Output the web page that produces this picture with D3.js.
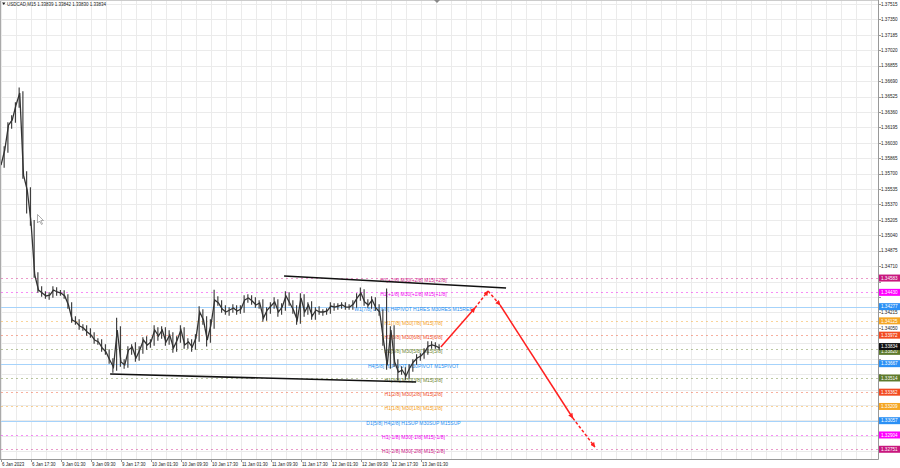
<!DOCTYPE html>
<html><head><meta charset="utf-8">
<script src="https://cdn.jsdelivr.net/npm/d3@7"></script>
<style>
body{margin:0;background:#fff;}
svg{display:block;font-family:"Liberation Sans",Arial,sans-serif;}
</style>
</head><body>
<svg id="c" width="900" height="468"></svg>
<script>
// ---------------- DATA ----------------
const chartTitle = "USDCAD,M15  1.33839 1.33842 1.33830 1.33834";
const lastPrice = 1.33834;

// time axis labels, one every 8 trading hours (hour index from start of chart)
const timeLabels = ["6 Jan 2023","6 Jan 17:30","9 Jan 01:30","9 Jan 09:30","9 Jan 17:30","10 Jan 01:30","10 Jan 09:30","10 Jan 17:30","11 Jan 01:30","11 Jan 09:30","11 Jan 17:30","12 Jan 01:30","12 Jan 09:30","12 Jan 17:30","13 Jan 01:30"];
const timeLabelHours = [0,8,16,24,32,40,48,56,64,72,80,88,96,104,112];

// price axis tick labels
const priceTicks = [1.37515,1.37350,1.37185,1.37020,1.36855,1.36690,1.36525,1.36360,1.36195,1.36030,1.35865,1.35700,1.35535,1.35370,1.35205,1.35040,1.34875,1.34710,1.34545,1.34380,1.34215,1.34050,1.33885,1.33720,1.33555,1.33390,1.33225,1.33060,1.32895,1.32730];

// hourly closes (hour index 0..117)
const closes = [
1.35792,1.35953,1.36220,1.36274,1.36434,1.36563,1.35685,1.35525,1.35183,1.34616,
1.34455,1.34423,1.34391,1.34401,1.34455,1.34434,1.34423,1.34391,1.34295,1.34134,
1.34113,1.34070,1.34049,1.34006,1.33974,1.33920,1.33899,1.33835,1.33792,1.33706,
1.33631,1.34027,1.33685,1.33653,1.33813,1.33845,1.33728,1.33813,1.33920,1.33867,
1.33899,1.34027,1.33963,1.34027,1.33899,1.33974,1.33835,1.33920,1.34027,1.33867,
1.33899,1.33845,1.33942,1.34220,1.34134,1.33920,1.34081,1.34348,1.34316,1.34252,
1.34220,1.34241,1.34263,1.34231,1.34252,1.34348,1.34370,1.34338,1.34295,1.34316,
1.34156,1.34241,1.34284,1.34327,1.34220,1.34273,1.34391,1.34316,1.34241,1.34134,
1.34370,1.34220,1.34295,1.34177,1.34241,1.34220,1.34220,1.34231,1.34284,1.34273,
1.34284,1.34295,1.34273,1.34273,1.34306,1.34370,1.34423,1.34327,1.34295,1.34348,
1.34263,1.34220,1.33920,1.33653,1.34027,1.33685,1.33578,1.33599,1.33535,1.33621,
1.33685,1.33728,1.33749,1.33792,1.33856,1.33867,1.33856,1.33834];

// hourly wick extent beyond the closes, in pips (up / down)
const wickUpPips = [
3,4,3,5,3,6,2,4,3,2,
3,4,2,3,4,3,2,3,2,3,
4,3,2,3,4,3,2,3,4,3,
2,13,4,3,4,3,5,4,3,4,
3,5,3,4,3,5,3,4,5,3,
4,3,4,6,3,4,6,11,4,3,
4,3,4,3,4,5,4,3,4,3,
4,3,4,5,3,4,5,4,3,5,
5,4,3,4,3,4,3,3,4,3,
3,3,3,3,4,5,6,4,3,4,
3,4,3,55,4,5,3,4,3,4,
3,4,3,4,5,4,3,2];
const wickDownPips = [
4,3,3,4,3,3,4,25,4,3,
3,4,3,4,3,4,3,3,4,3,
3,4,3,4,3,4,3,4,3,4,
6,4,5,4,3,5,4,3,4,5,
3,4,5,3,4,3,5,4,3,4,
4,5,3,4,5,7,3,4,3,4,
3,4,3,4,3,4,3,4,3,4,
4,3,4,3,5,3,4,3,4,5,
4,5,3,4,4,3,4,3,3,4,
3,3,3,3,3,4,3,4,3,4,
3,4,6,5,4,5,9,3,4,3,
4,3,3,3,3,3,3,2];

// Murrey math levels
const levelPrices = [1.34583,1.34430,1.34277,1.34125,1.33972,1.33820,1.33667,1.33514,1.33362,1.33209,1.33057,1.32904,1.32751];
const levelNames = [
"H1[+2/8] M30[+2/8] M15[+2/8]",
"H1[+1/8] M30[+1/8] M15[+1/8]",
"W1[7/8] D1[8/8] H4PIVOT H1RES M30RES M15RES",
"H1[7/8] M30[7/8] M15[7/8]",
"H1[6/8] M30[6/8] M15[6/8]",
"H1[5/8] M30[5/8] M15[5/8]",
"H4[5/8] H1PIVOT M30PIVOT M15PIVOT",
"H1[3/8] M30[3/8] M15[3/8]",
"H1[2/8] M30[2/8] M15[2/8]",
"H1[1/8] M30[1/8] M15[1/8]",
"D1[5/8] H4[2/8] H1SUP M30SUP M15SUP",
"H1[-1/8] M30[-1/8] M15[-1/8]",
"H1[-2/8] M30[-2/8] M15[-2/8]"];
const levelColors = ["#d0208a","#f000f0","#2a8ff0","#f5a020","#f0502a","#6b8430","#2a8ff0","#6b8430","#f0502a","#f5a020","#2a8ff0","#f000f0","#d0208a"];
const levelBoxColors = ["#c8187e","#ff00ff","#2a90f5","#f5a623","#f24a20","#5e7a2c","#2a90f5","#5e7a2c","#f24a20","#f5a623","#2a90f5","#ff00ff","#c8187e"];
const levelSolid = [false,false,true,false,false,false,true,false,false,false,true,false,false];
const levelLabelHour = 110;

// trend lines [hour, price]
const upperTrend = [[75.5,1.34605],[134.7,1.34477]];
const lowerTrend = [[29.1,1.33556],[110.7,1.33471]];

// forecast arrows path and styles of each segment
const arrowHours  = [117.3,126.4,129.9,133.1,152.5,158.4];
const arrowPrices = [1.33845,1.34263,1.34444,1.34295,1.33086,1.32775];
const arrowDashed = [false,true,true,false,true];

// ---------------- DRAW ----------------
const W = 900, H = 468;
const plotL = 1, plotR = 878, plotT = 0, plotB = 459;
const PIP = 0.0001;
const svg = d3.select("#c");

const x = d3.scaleLinear().domain([0, 233.9]).range([plotL, plotR]);
const y = d3.scaleLinear().domain([1.32647, 1.37558]).range([plotB, plotT]);

svg.append("rect").attr("width",W).attr("height",H).attr("fill","#fff");

// grid
const grid = svg.append("g").attr("stroke","#ebebeb").attr("stroke-width",1);
grid.selectAll("line.h").data(priceTicks).join("line")
  .attr("x1",plotL).attr("x2",plotR)
  .attr("y1",d=>Math.round(y(d))+0.5).attr("y2",d=>Math.round(y(d))+0.5);
const gridHours = d3.range(0, 234, 4);
grid.selectAll("line.v").data(gridHours).join("line")
  .attr("y1",plotT).attr("y2",plotB)
  .attr("x1",d=>Math.round(x(d))+0.5).attr("x2",d=>Math.round(x(d))+0.5);

// murrey level lines
const lv = svg.append("g");
levelPrices.forEach((p,i)=>{
  lv.append("line")
    .attr("x1",plotL).attr("x2",plotR)
    .attr("y1",Math.round(y(p))+0.5).attr("y2",Math.round(y(p))+0.5)
    .attr("stroke", levelSolid[i] ? "#a6d3fb" : levelColors[i])
    .attr("stroke-opacity", levelSolid[i] ? 1 : 0.45)
    .attr("stroke-width",1)
    .attr("stroke-dasharray", levelSolid[i] ? null : "2,3");
});

// price bars (hourly high-low) and close line
const pg = svg.append("g").attr("stroke","#333");
closes.forEach((c,k)=>{
  const prev = k>0 ? closes[k-1] : c;
  const hi = Math.max(prev,c) + wickUpPips[k]*PIP;
  const lo = Math.min(prev,c) - wickDownPips[k]*PIP;
  pg.append("line").attr("x1",x(k)-0.6).attr("x2",x(k)-0.6)
    .attr("y1",y(hi)).attr("y2",y(lo)).attr("stroke-width",1.1);
});
const line = d3.line().x((d,i)=>x(i)).y(d=>y(d));
svg.append("path").datum(closes).attr("d",line)
  .attr("fill","none").attr("stroke","#333").attr("stroke-width",1.3);

// level labels
lv.selectAll("text").data(levelPrices).join("text")
  .attr("x", x(levelLabelHour)).attr("y", d=>y(d)+4)
  .attr("text-anchor","middle").attr("font-size",5)
  .attr("fill",(d,i)=>levelColors[i])
  .text((d,i)=>levelNames[i]);

// trend lines
[upperTrend, lowerTrend].forEach(t=>{
  svg.append("line")
    .attr("x1",x(t[0][0])).attr("y1",y(t[0][1]))
    .attr("x2",x(t[1][0])).attr("y2",y(t[1][1]))
    .attr("stroke","#111").attr("stroke-width",1.6);
});

// arrows
const defs = svg.append("defs");
defs.append("marker").attr("id","ah").attr("viewBox","0 0 10 10")
  .attr("refX",9).attr("refY",5).attr("markerWidth",5).attr("markerHeight",5)
  .attr("orient","auto").attr("markerUnits","userSpaceOnUse")
  .append("path").attr("d","M0,0 L10,5 L0,10 z").attr("fill","#ff2020");
for(let i=0;i<arrowDashed.length;i++){
  svg.append("line")
    .attr("x1",x(arrowHours[i])).attr("y1",y(arrowPrices[i]))
    .attr("x2",x(arrowHours[i+1])).attr("y2",y(arrowPrices[i+1]))
    .attr("stroke","#ff2020").attr("stroke-width",1.5)
    .attr("stroke-dasharray", arrowDashed[i] ? "3,2" : null)
    .attr("marker-end","url(#ah)");
}

// mouse cursor
svg.append("path").attr("d","M37.5,214.5 L37.5,223 L39.5,221 L41.5,224.5 L42.5,224 L40.8,220.5 L43.5,220.5 Z")
  .attr("fill","#fff").attr("stroke","#777").attr("stroke-width",0.6);

// frame / axes
svg.append("line").attr("x1",plotR+0.5).attr("x2",plotR+0.5).attr("y1",0).attr("y2",plotB+0.5).attr("stroke","#999");
svg.append("line").attr("x1",0).attr("x2",plotR+0.5).attr("y1",plotB+0.5).attr("y2",plotB+0.5).attr("stroke","#999");
svg.append("line").attr("x1",0.5).attr("x2",0.5).attr("y1",0).attr("y2",plotB).attr("stroke","#aaa");
svg.append("line").attr("x1",0).attr("x2",plotR).attr("y1",0.5).attr("y2",0.5).attr("stroke","#ccc");
svg.append("path").attr("d","M434,0 L440,0 L437,3 Z").attr("fill","#888");

// level price boxes positions
const boxY = levelPrices.map((p,i)=> y(p) + (i===5 ? 2 : 0));
const lastY = y(lastPrice) - 1.5;
const allBoxY = boxY.concat([lastY]);

// right axis (tick labels hidden under boxes)
const ra = svg.append("g");
ra.selectAll("line").data(priceTicks).join("line")
  .attr("x1",plotR).attr("x2",plotR+3)
  .attr("y1",d=>Math.round(y(d))+0.5).attr("y2",d=>Math.round(y(d))+0.5)
  .attr("stroke","#999");
ra.selectAll("text").data(priceTicks.filter(t=>allBoxY.every(b=>Math.abs(b-y(t))>5.5))).join("text")
  .attr("x",plotR+3).attr("y",d=>y(d)+1.7)
  .attr("font-size",4.6).attr("fill","#222")
  .text(d=>d.toFixed(5));

const boxes = svg.append("g");
levelPrices.forEach((p,i)=>{
  const yy = boxY[i];
  boxes.append("rect").attr("x",plotR+1).attr("y",yy-3.5).attr("width",21).attr("height",7)
    .attr("fill",levelBoxColors[i]);
  boxes.append("text").attr("x",plotR+3).attr("y",yy+1.7).attr("font-size",4.6)
    .attr("fill","#fff").text(p.toFixed(5));
});
boxes.append("rect").attr("x",plotR+1).attr("y",lastY-3.5).attr("width",21).attr("height",7).attr("fill","#111");
boxes.append("text").attr("x",plotR+3).attr("y",lastY+1.7).attr("font-size",4.6).attr("fill","#fff").text(lastPrice.toFixed(5));

// bottom axis
const ba = svg.append("g");
ba.selectAll("line").data(timeLabelHours).join("line")
  .attr("x1",d=>Math.round(x(d))+0.5).attr("x2",d=>Math.round(x(d))+0.5)
  .attr("y1",plotB).attr("y2",plotB+3).attr("stroke","#999");
ba.selectAll("text").data(timeLabelHours).join("text")
  .attr("x",d=>x(d)+1).attr("y",plotB+7)
  .attr("font-size",4.5).attr("fill","#222")
  .text((d,i)=>timeLabels[i]);

// title
svg.append("path").attr("d","M2,2.5 L5.5,2.5 L3.75,5 Z").attr("fill","#222");
svg.append("text").attr("x",7).attr("y",6.2).attr("font-size",4.5).attr("fill","#222").text(chartTitle);
</script>
</body></html>
